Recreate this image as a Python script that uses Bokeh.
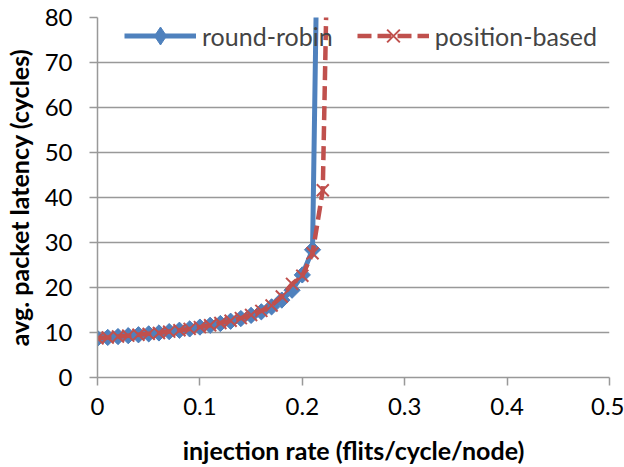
import math
from bokeh.plotting import figure
from bokeh.models import Range1d, FixedTicker, Legend, LegendItem
from bokeh.embed import file_html
from bokeh.resources import INLINE

# data
rate_rr = [0.00, 0.01, 0.02, 0.03, 0.04, 0.05, 0.06, 0.07, 0.08, 0.09, 0.10,
           0.11, 0.12, 0.13, 0.14, 0.15, 0.16, 0.17, 0.18, 0.19, 0.20, 0.21, 0.22]
lat_rr = [8.7, 8.9, 9.1, 9.3, 9.5, 9.7, 9.9, 10.2, 10.5, 10.8, 11.2,
          11.6, 12.0, 12.5, 13.1, 13.8, 14.6, 15.7, 17.2, 19.4, 22.8, 28.4, 180.0]
rate_pb = [0.00, 0.01, 0.02, 0.03, 0.04, 0.05, 0.06, 0.07, 0.08, 0.09, 0.10,
           0.11, 0.12, 0.13, 0.14, 0.15, 0.16, 0.17, 0.18, 0.19, 0.20, 0.21, 0.22, 0.23]
lat_pb = [8.7, 8.9, 9.1, 9.3, 9.5, 9.7, 9.9, 10.2, 10.5, 10.8, 11.2,
          11.6, 12.1, 12.6, 13.2, 13.9, 14.8, 16.0, 18.0, 20.8, 22.6, 27.6, 41.6, 160.0]
x_ticks = [0, 0.1, 0.2, 0.3, 0.4, 0.5]
x_tick_labels = ["0", "0.1", "0.2", "0.3", "0.4", "0.5"]
y_ticks = [0, 10, 20, 30, 40, 50, 60, 70, 80]

FONT = "Lato"
BLUE = "#4F81BD"
RED = "#C0504D"
GRID = "#999999"

p = figure(width=624, height=467, output_backend="svg", toolbar_location=None,
           x_range=Range1d(0, 0.5), y_range=Range1d(0, 80),
           min_border_left=97, min_border_right=15, min_border_top=17,
           min_border_bottom=89)
p.outline_line_color = None
p.background_fill_color = "white"

p.xgrid.grid_line_color = None
p.ygrid.grid_line_color = GRID
p.ygrid.grid_line_width = 1.5

p.xaxis.ticker = FixedTicker(ticks=x_ticks)
p.yaxis.ticker = FixedTicker(ticks=y_ticks)
p.xaxis.major_label_overrides = dict(zip(x_ticks, x_tick_labels))
for ax in (p.xaxis, p.yaxis):
    ax.axis_line_color = GRID
    ax.axis_line_width = 1.5
    ax.major_tick_line_color = GRID
    ax.major_tick_line_width = 1.5
    ax.major_tick_out = 8
    ax.major_tick_in = 0
    ax.minor_tick_line_color = None
    ax.major_label_text_font = FONT
    ax.major_label_text_font_size = "24px"
    ax.major_label_text_color = "black"
    ax.axis_label_text_font = FONT
    ax.axis_label_text_font_size = "25px"
    ax.axis_label_text_font_style = "bold"
    ax.axis_label_text_color = "black"

p.xaxis.axis_label = "injection rate (flits/cycle/node)"
p.yaxis.axis_label = "avg. packet latency (cycles)"
p.xaxis.major_label_standoff = 12
p.xaxis.axis_label_standoff = 17
p.yaxis.major_label_standoff = 17
p.yaxis.axis_label_standoff = 8

l1 = p.line(rate_rr, lat_rr, line_color=BLUE, line_width=5)
# narrow diamond (legend glyph), fully covered by the rotated square below
s1_leg = p.scatter(rate_rr, lat_rr, marker="diamond", size=15,
                   fill_color=BLUE, line_color=BLUE)
s1 = p.scatter(rate_rr, lat_rr, marker="square", angle=math.pi / 4, size=11.5,
               fill_color=BLUE, line_color=BLUE)
l2 = p.line(rate_pb, lat_pb, line_color=RED, line_width=4.5, line_dash="14 6")
s2 = p.scatter(rate_pb, lat_pb, marker="x", size=17, line_color=RED, line_width=2)

legend = Legend(items=[LegendItem(label="round-robin", renderers=[l1, s1_leg]),
                       LegendItem(label="position-based", renderers=[l2, s2])],
                orientation="horizontal", location=(27, 319),
                background_fill_alpha=0, border_line_color=None,
                label_text_font=FONT, label_text_font_size="25px",
                glyph_width=72, glyph_height=45, spacing=24, padding=4,
                label_standoff=6, margin=0)
p.add_layout(legend)

open("out.html", "w").write(file_html(p, INLINE))
